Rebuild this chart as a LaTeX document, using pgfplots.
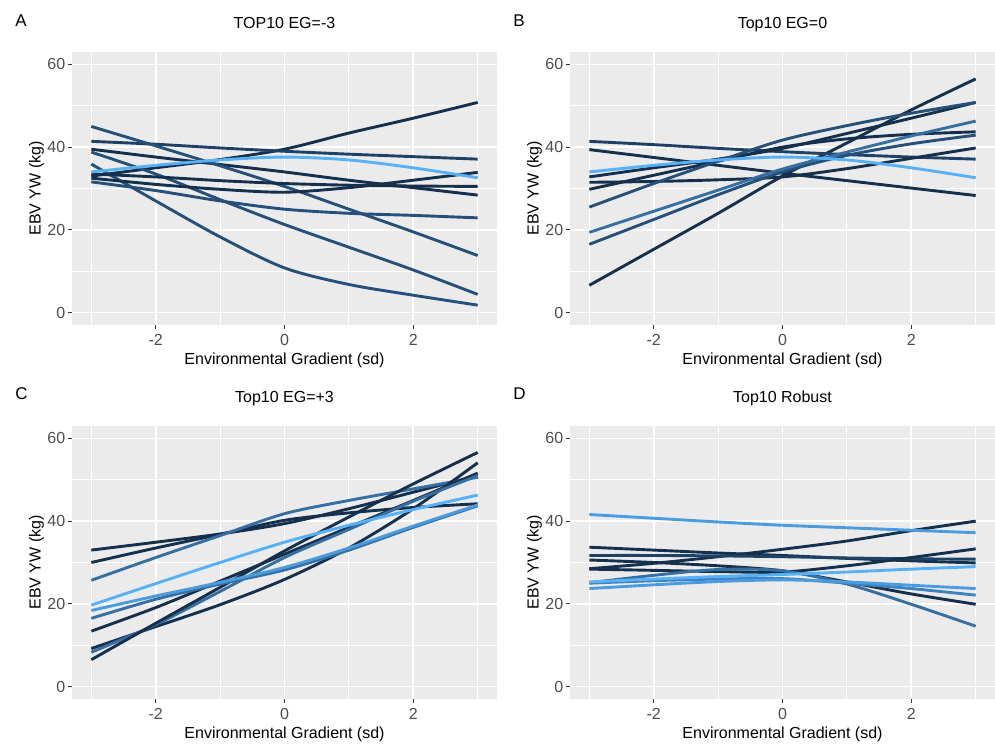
\documentclass[border=0pt]{standalone}
\usepackage{fontspec}
\setmainfont{Liberation Sans}
\usepackage{pgfplots}
\pgfplotsset{compat=1.18}
\definecolor{ggbg}{HTML}{EBEBEB}
\definecolor{ggtick}{HTML}{333333}
\definecolor{ggtext}{HTML}{4D4D4D}
\definecolor{cD}{HTML}{15304C}
\definecolor{cDM}{HTML}{1E4166}
\definecolor{cM}{HTML}{25507A}
\definecolor{cMM}{HTML}{3670A3}
\definecolor{cML}{HTML}{3F82C0}
\definecolor{cLM}{HTML}{4A9BE0}
\definecolor{cL}{HTML}{56B1F7}
\pgfplotsset{
 ggpanel/.style={
  scale only axis, width=212.5pt, height=136.5pt,
  xmin=-3.3, xmax=3.3, ymin=-3, ymax=63,
  xtick={-2,0,2}, xticklabels={-2,0,2},
  ytick={0,20,40,60}, yticklabels={0,20,40,60},
  minor xtick={-3,-1,1,3}, minor ytick={10,30,50},
  grid=both,
  major grid style={white, line width=0.9pt},
  minor grid style={white, line width=0.45pt},
  axis background/.style={fill=ggbg},
  axis line style={draw=none},
  tick pos=left, tick align=outside,
  major tick length=2pt, minor tick length=0pt,
  tick style={color=ggtick, line width=0.5pt},
  xticklabel style={anchor=north, inner sep=0pt, yshift=-2.5pt, font=\fontsize{8}{9.6}\selectfont, text=ggtext},
  yticklabel style={anchor=east, inner sep=0pt, xshift=-1.2pt, font=\fontsize{8}{9.6}\selectfont, text=ggtext},
  xlabel={Environmental Gradient (sd)}, ylabel={EBV YW (kg)},
  label style={font=\fontsize{8}{9.6}\selectfont},
  xlabel style={at={(axis description cs:0.5,-0.1447)}, anchor=base},
  ylabel style={at={(axis description cs:-0.0741,0.5)}, anchor=base},
  title style={at={(axis description cs:0.5,1.0421)}, anchor=base, font=\fontsize{8}{9.6}\selectfont},
  every axis plot/.append style={line width=1.45pt, smooth, no markers},
 }
}
\begin{document}
\begin{tikzpicture}
\useasboundingbox (0,0) rectangle (497.5pt,372.5pt);
% Panel A
\begin{axis}[ggpanel, at={(36pt,210pt)}, anchor=south west, title={TOP10 EG=-3}]
\addplot[cD] coordinates {(-3,33)(-2,35)(-1,37)(0,39.5)(1,43.4)(2,47)(3,50.8)};
\addplot[cDM] coordinates {(-3,41.4)(-2,40.7)(-1,39.8)(0,39)(1,38.3)(2,37.7)(3,37.1)};
\addplot[cD] coordinates {(-3,39.5)(-2,37.6)(-1,35.8)(0,34)(1,32)(2,30.2)(3,28.4)};
\addplot[cM] coordinates {(-3,45)(-2,40.3)(-1,35.5)(0,30.5)(1,25)(2,19.5)(3,13.8)};
\addplot[cM] coordinates {(-3,38.8)(-2,33.5)(-1,27.3)(0,21.3)(1,15.8)(2,10.3)(3,4.4)};
\addplot[cM] coordinates {(-3,35.9)(-2,27)(-1,18.3)(0,10.8)(1,6.8)(2,4.2)(3,1.8)};
\addplot[cD] coordinates {(-3,33.5)(-2,32.8)(-1,31.9)(0,31.2)(1,30.8)(2,30.6)(3,30.5)};
\addplot[cD] coordinates {(-3,32.5)(-2,31)(-1,29.8)(0,29.1)(1,30.2)(2,32)(3,33.9)};
\addplot[cM] coordinates {(-3,31.6)(-2,29.5)(-1,27)(0,25)(1,24)(2,23.5)(3,22.9)};
\addplot[cL] coordinates {(-3,34)(-2,35.6)(-1,36.9)(0,37.6)(1,36.9)(2,35)(3,32.6)};
\end{axis}
% Panel B
\begin{axis}[ggpanel, at={(285pt,210pt)}, anchor=south west, title={Top10 EG=0}]
\addplot[cD] coordinates {(-3,6.6)(-2,15.3)(-1,24)(0,33)(1,41)(2,49)(3,56.5)};
\addplot[cDM] coordinates {(-3,41.4)(-2,40.6)(-1,39.7)(0,38.9)(1,38.2)(2,37.6)(3,37.1)};
\addplot[cD] coordinates {(-3,39.4)(-2,37.5)(-1,35.6)(0,33.7)(1,31.9)(2,30.1)(3,28.3)};
\addplot[cD] coordinates {(-3,32.8)(-2,35)(-1,37.1)(0,39.7)(1,43.3)(2,47)(3,50.8)};
\addplot[cD] coordinates {(-3,29.8)(-2,33.2)(-1,36.6)(0,40)(1,42)(2,43.1)(3,43.7)};
\addplot[cD] coordinates {(-3,31.5)(-2,31.7)(-1,32.1)(0,32.8)(1,34.8)(2,37.3)(3,39.8)};
\addplot[cM] coordinates {(-3,25.5)(-2,31.2)(-1,36.6)(0,41.7)(1,45.2)(2,48.2)(3,50.8)};
\addplot[cM] coordinates {(-3,16.5)(-2,22.5)(-1,28.5)(0,34)(1,38)(2,40.8)(3,42.9)};
\addplot[cMM] coordinates {(-3,19.4)(-2,24.5)(-1,29.6)(0,34.7)(1,38.8)(2,42.7)(3,46.3)};
\addplot[cL] coordinates {(-3,34)(-2,35.6)(-1,36.9)(0,37.6)(1,36.9)(2,35)(3,32.6)};
\end{axis}
% Panel C
\begin{axis}[ggpanel, at={(36pt,23pt)}, anchor=south west, title={Top10 EG=+3}]
\addplot[cD] coordinates {(-3,33)(-2,34.9)(-1,36.9)(0,39.4)(1,43)(2,47)(3,51)};
\addplot[cD] coordinates {(-3,30)(-2,33.5)(-1,36.8)(0,40.2)(1,42)(2,43.3)(3,44.2)};
\addplot[cMM] coordinates {(-3,25.7)(-2,31.2)(-1,36.5)(0,41.8)(1,45)(2,47.8)(3,50.6)};
\addplot[cD] coordinates {(-3,13.4)(-2,19.1)(-1,25.5)(0,32)(1,38.5)(2,45)(3,51.6)};
\addplot[cD] coordinates {(-3,9.2)(-2,14.5)(-1,19.8)(0,25.9)(1,33.5)(2,43)(3,54.1)};
\addplot[cMM] coordinates {(-3,8.3)(-2,15)(-1,23)(0,31.2)(1,38)(2,44.8)(3,51)};
\addplot[cD] coordinates {(-3,6.5)(-2,15.3)(-1,24)(0,32.8)(1,41)(2,49)(3,56.6)};
\addplot[cMM] coordinates {(-3,16.5)(-2,21.1)(-1,24.8)(0,28.2)(1,33)(2,38.5)(3,43.7)};
\addplot[cLM] coordinates {(-3,18.4)(-2,21.9)(-1,25.2)(0,28.8)(1,33.5)(2,38.8)(3,43.9)};
\addplot[cL] coordinates {(-3,19.7)(-2,24.9)(-1,30)(0,34.9)(1,39)(2,42.8)(3,46.3)};
\end{axis}
% Panel D
\begin{axis}[ggpanel, at={(285pt,23pt)}, anchor=south west, title={Top10 Robust}]
\addplot[cD] coordinates {(-3,28.5)(-2,29.8)(-1,31.4)(0,33.2)(1,35.2)(2,37.7)(3,40)};
\addplot[cD] coordinates {(-3,33.7)(-2,33)(-1,32.3)(0,31.7)(1,31)(2,30.4)(3,29.9)};
\addplot[cDM] coordinates {(-3,31.7)(-2,31.7)(-1,31.6)(0,31.4)(1,31.1)(2,30.9)(3,30.8)};
\addplot[cD] coordinates {(-3,30.6)(-2,30)(-1,29.2)(0,28)(1,25.3)(2,22.4)(3,19.9)};
\addplot[cD] coordinates {(-3,28.4)(-2,28.1)(-1,27.8)(0,27.7)(1,29.2)(2,31.2)(3,33.3)};
\addplot[cMM] coordinates {(-3,25.1)(-2,26.9)(-1,28.3)(0,28)(1,24.8)(2,19.9)(3,14.6)};
\addplot[cML] coordinates {(-3,25)(-2,25.6)(-1,26)(0,26.1)(1,25)(2,23.7)(3,22.1)};
\addplot[cLM] coordinates {(-3,23.7)(-2,24.6)(-1,25.4)(0,25.8)(1,25.3)(2,24.5)(3,23.7)};
\addplot[cL] coordinates {(-3,25.3)(-2,26)(-1,26.6)(0,27.1)(1,27.7)(2,28.4)(3,29)};
\addplot[cLM] coordinates {(-3,41.6)(-2,40.7)(-1,39.8)(0,39)(1,38.4)(2,37.8)(3,37.2)};
\end{axis}
\node[anchor=base west, inner sep=0pt, font=\fontsize{8.5}{10}\selectfont] at (7.5pt,359.15pt) {A};
\node[anchor=base west, inner sep=0pt, font=\fontsize{8.5}{10}\selectfont] at (256.5pt,359.15pt) {B};
\node[anchor=base west, inner sep=0pt, font=\fontsize{8.5}{10}\selectfont] at (7.5pt,172.5pt) {C};
\node[anchor=base west, inner sep=0pt, font=\fontsize{8.5}{10}\selectfont] at (256.5pt,172.5pt) {D};
\end{tikzpicture}
\end{document}
